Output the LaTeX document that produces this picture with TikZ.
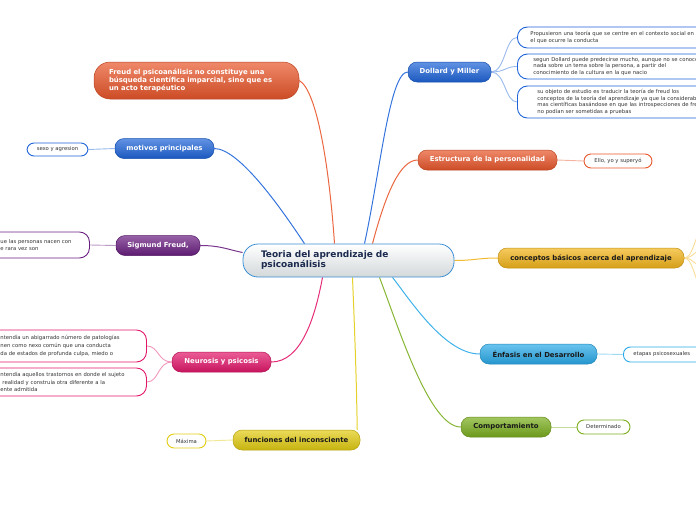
\documentclass[tikz,border=0pt]{standalone}
\usepackage{fontspec}
\setmainfont{DejaVu Sans}
\usetikzlibrary{backgrounds}
\definecolor{dmblue}{HTML}{1E64D8}
\definecolor{estorange}{HTML}{E8562A}
\definecolor{conyellow}{HTML}{F2B41A}
\definecolor{enfblue}{HTML}{2AAAE8}
\definecolor{comgreen}{HTML}{7AAE1E}
\definecolor{funyellow}{HTML}{E2CC12}
\definecolor{neupink}{HTML}{E2176A}
\definecolor{sigpurple}{HTML}{6A1E80}
\definecolor{rootline}{HTML}{3C8FD4}
\definecolor{rootgray}{HTML}{D3D8DA}
\definecolor{rootink}{HTML}{1B2A4E}
\tikzset{
  root/.style={draw=rootline, line width=0.8pt, rounded corners=15pt,
    top color=white, bottom color=rootgray, minimum width=211pt,
    minimum height=33pt, text width=175pt, inner xsep=18pt, align=left,
    font=\bfseries\fontsize{9}{10}\selectfont, text=rootink},
  topic/.style={draw=#1!80!black, line width=0.5pt, rounded corners=9pt,
    top color=#1!70!white, bottom color=#1!88!black, minimum height=20pt,
    inner xsep=5pt, inner ysep=2pt, text=white,
    font=\bfseries\fontsize{6.9}{7.9}\selectfont},
  leaf/.style={draw=#1, fill=white, line width=0.9pt, rounded corners=7pt,
    align=left, inner ysep=2pt, text=black!80,
    font=\fontsize{5.3}{6.7}\selectfont},
  branch/.style={draw=#1, line width=1pt},
  twig/.style={draw=#1!45!white, line width=0.9pt}
}
\begin{document}
\begin{tikzpicture}[x=1pt,y=-1pt]
  \useasboundingbox (0,0) rectangle (696,520);
  % centre
  \node[root] (root) at (348.5,260.5) {Teoria del aprendizaje de\\psicoanálisis};
  % main topics
  \node[topic=dmblue, minimum width=83pt] (dm) at (449.5,72) {Dollard y Miller};
  \node[topic=estorange, minimum width=139pt] (est) at (487.5,160) {Estructura de la personalidad};
  \node[topic=conyellow, text=black!90, minimum width=186pt] (con) at (591,258) {conceptos básicos acerca del aprendizaje};
  \node[topic=enfblue, text=black!90, minimum width=117pt] (enf) at (538.5,354) {Énfasis en el Desarrollo};
  \node[topic=comgreen, text=black!90, minimum width=90pt] (com) at (506,427) {Comportamiento};
  \node[topic=funyellow, text=black!90, minimum width=127pt] (fun) at (296.5,440) {funciones del inconsciente};
  \node[topic=neupink, minimum width=99pt] (neu) at (221.5,362) {Neurosis y psicosis};
  \node[topic=sigpurple, minimum width=84pt] (sig) at (158,245.5) {Sigmund Freud,};
  \node[topic=dmblue, minimum width=99pt] (mot) at (164.5,148.5) {motivos principales};
  \node[topic=estorange, rounded corners=16pt, minimum width=205pt, minimum height=37pt,
        text width=175pt, inner xsep=15pt, align=left] (freud) at (196.5,80.5)
        {Freud el psicoanálisis no constituye una\\búsqueda científica imparcial, sino que es\\un acto terapéutico};
  % leaves
  \node[leaf=dmblue, anchor=west, rounded corners=10pt, text width=190pt, inner xsep=13pt,
        minimum height=21pt] (dm1) at (517,37.5)
        {Propusieron una teoría que se centre en el contexto social en\\el que ocurre la conducta};
  \node[leaf=dmblue, anchor=west, rounded corners=10pt, text width=190pt, inner xsep=16pt,
        minimum height=25pt] (dm2) at (517,66.5)
        {segun Dollard puede predecirse mucho, aunque no se conoce\\nada sobre un tema sobre la persona, a partir del\\conocimiento de la cultura en la que nacio};
  \node[leaf=dmblue, anchor=west, rounded corners=10pt, text width=190pt, inner xsep=20pt,
        minimum height=32pt] (dm3) at (517,102)
        {su objeto de estudio es traducir la teoría de freud los\\conceptos de la teoría del aprendizaje ya que la consideraba\\mas científicas basándose en que las introspecciones de freud\\no podían ser sometidas a pruebas};
  \node[leaf=estorange, minimum width=68pt, minimum height=14pt] (ello) at (618,161) {Ello, yo y superyó};
  \node[leaf=enfblue, anchor=west, text width=90pt, inner xsep=10pt, minimum height=15pt] (etapas) at (623,354.5) {etapas psicosexuales};
  \node[leaf=comgreen, minimum width=53pt, minimum height=14pt] (det) at (603.5,427) {Determinado};
  \node[leaf=funyellow, minimum width=39pt, minimum height=14pt] (max) at (186.5,441) {Máxima};
  \node[leaf=dmblue, minimum width=61pt, minimum height=13pt] (sexo) at (57.5,149.5) {sexo y agresion};
  \node[leaf=neupink, anchor=west, rounded corners=10pt, text width=132pt, inner xsep=14pt,
        minimum height=32pt, font=\fontsize{5.3}{7.8}\selectfont] (neu1) at (-14,346)
        {ntendía un abigarrado número de patologías\\nen como nexo común que una conducta\\da de estados de profunda culpa, miedo o};
  \node[leaf=neupink, anchor=west, rounded corners=10pt, text width=132pt, inner xsep=14pt,
        minimum height=28pt, font=\fontsize{5.3}{7.8}\selectfont] (neu2) at (-14,382)
        {ntendía aquellos trastornos en donde el sujeto\\\hspace*{2pt}realidad y construía otra diferente a la\\ente admitida};
  \node[leaf=sigpurple, anchor=west, rounded corners=10pt, text width=75pt, inner xsep=14pt,
        minimum height=26pt] (sigc) at (-14,245)
        {ue las personas nacen con\\e rara vez son};
  % free ends of the branches leaving the page
  \coordinate (con1) at (706,226);
  \coordinate (con2) at (706,248);
  \coordinate (con3) at (706,268);
  \coordinate (con4) at (706,292);
  \begin{scope}[on background layer]
    % from the centre
    \draw[branch=dmblue!90!white] ([xshift=16pt]root.north) .. controls +(16,-74) and +(-18,0) .. (dm.west);
    \draw[branch=estorange!90!white] ([xshift=-14pt]root.north) .. controls +(-5,-74) and +(18,10) .. (freud.east);
    \draw[branch=estorange!90!white] ([xshift=24pt]root.north) .. controls +(13,-49) and +(-18,0) .. (est.west);
    \draw[branch=dmblue!90!white] ([xshift=-44pt]root.north) .. controls +(-20,-30) and +(26,0) .. (mot.east);
    \draw[branch=sigpurple!90!white] ([yshift=8pt]root.west) .. controls +(-15,-3) and +(20,0) .. (sig.east);
    \draw[branch=neupink!90!white] ([xshift=-26pt]root.south) .. controls +(-8,43) and +(29,0) .. (neu.east);
    \draw[branch=funyellow!90!white] ([xshift=4pt]root.south) .. controls +(2,50) and +(-1,-60) .. ([xshift=-3pt]fun.north east);
    \draw[branch=comgreen!90!white] ([xshift=31pt]root.south) .. controls +(20,53) and +(-31,0) .. (com.west);
    \draw[branch=enfblue!90!white] ([xshift=44pt]root.south) .. controls +(18,23) and +(-35,0) .. (enf.west);
    \draw[branch=conyellow!90!white] (root.east) .. controls +(20,0) and +(-20,0) .. (con.west);
    % to the leaves
    \foreach \leaf in {dm1,dm2,dm3}
      \draw[twig=dmblue] (dm.east) .. controls +(14,0) and +(-12,0) .. (\leaf.west);
    \foreach \leaf in {con1,con2,con3,con4}
      \draw[twig=conyellow] (con.east) .. controls +(10,0) and +(-10,0) .. (\leaf);
    \foreach \leaf in {neu1,neu2}
      \draw[twig=neupink] (neu.west) .. controls +(-14,0) and +(12,0) .. (\leaf.east);
    \draw[twig=estorange] (est.east) -- (ello.west);
    \draw[twig=enfblue] (enf.east) -- (etapas.west);
    \draw[twig=comgreen] (com.east) -- (det.west);
    \draw[twig=funyellow] (fun.west) -- (max.east);
    \draw[twig=sigpurple] (sig.west) -- (sigc.east);
    \draw[twig=dmblue] (mot.west) -- (sexo.east);
  \end{scope}
\end{tikzpicture}
\end{document}
